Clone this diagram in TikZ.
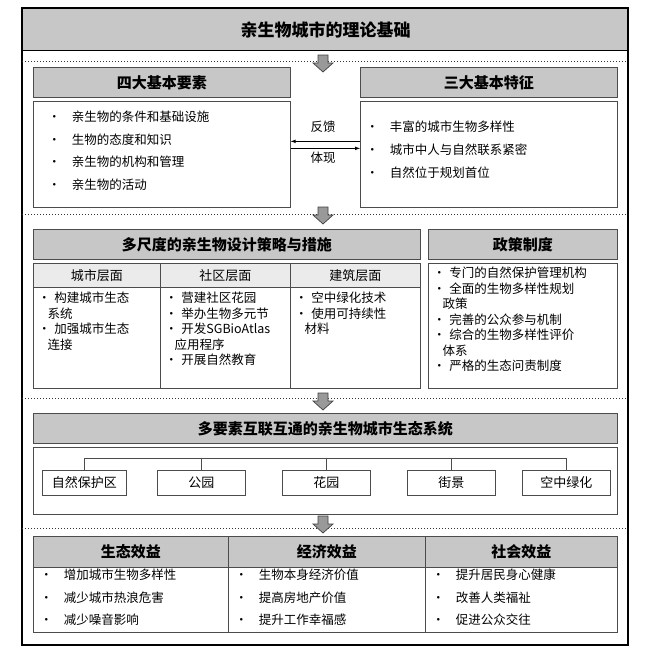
\documentclass[tikz,border=0pt]{standalone}
\usepackage{fontspec}
\setmainfont{Noto Sans CJK SC}
\usetikzlibrary{calc}
\tikzset{
  hdr/.style={draw=black!70,fill=black!22,line width=0.7pt,font=\fontsize{15}{18}\selectfont\bfseries},
  sub/.style={draw=black!70,fill=black!8,line width=0.6pt,font=\fontsize{13}{16}\selectfont},
  bodyb/.style={draw=black!70,fill=white,line width=0.7pt},
  txt/.style={font=\fontsize{12.5}{17}\selectfont,align=left,anchor=north west,inner sep=0pt},
  eco/.style={draw=black!70,fill=white,line width=0.7pt,minimum height=25pt,font=\fontsize{13}{16}\selectfont},
  dotl/.style={line width=1pt,dotted,black!80},
  bigarrow/.style={draw=black!75,fill=black!40,line width=0.7pt}
}
\newcommand\downarr[2]{\draw[bigarrow] (#1-5,#2) -- (#1+5,#2) -- (#1+5,#2+8) -- (#1+10,#2+8) -- (#1,#2+17) -- (#1-10,#2+8) -- (#1-5,#2+8) -- cycle;}
\begin{document}
\begin{tikzpicture}[x=1pt,y=-1pt]
\useasboundingbox (0,0) rectangle (646,656);
% outer frame and title
\node[hdr,minimum width=606pt,minimum height=42pt,anchor=north west,line width=1.2pt,draw=black,font=\fontsize{17}{20}\selectfont\bfseries] (title) at (22,8) {亲生物城市的理论基础};
\draw[line width=1.2pt] (22,8) rectangle (628,645);
% section 1
\draw[dotl] (22,61) -- (628,61);
\downarr{323}{55}
\node[hdr,minimum width=257pt,minimum height=30pt,anchor=north west] (h1) at (33,67) {四大基本要素};
\node[hdr,minimum width=257pt,minimum height=30pt,anchor=north west] (h2) at (360,67) {三大基本特征};
\node[bodyb,minimum width=257pt,minimum height=106pt,anchor=north west] (b1) at (33,101) {};
\node[bodyb,minimum width=257pt,minimum height=106pt,anchor=north west] (b2) at (360,101) {};
\node[txt,font=\fontsize{12.5}{22.5}\selectfont] (t1) at (48,111) {•\hspace{0.9em}亲生物的条件和基础设施\\•\hspace{0.9em}生物的态度和知识\\•\hspace{0.9em}亲生物的机构和管理\\•\hspace{0.9em}亲生物的活动};
\node[txt,font=\fontsize{12.5}{23}\selectfont] (t2) at (366,121) {•\hspace{0.9em}丰富的城市生物多样性\\•\hspace{0.9em}城市中人与自然联系紧密\\•\hspace{0.9em}自然位于规划首位};
\draw[-latex,line width=0.7pt] ($(b2.west)+(0,-13)$) -- ($(b1.east)+(0,-13)$);
\draw[-latex,line width=0.7pt] ($(b1.east)+(0,-6)$) -- ($(b2.west)+(0,-6)$);
\node[font=\fontsize{12.5}{15}\selectfont] (fk) at (323,127) {反馈};
\node[font=\fontsize{12.5}{15}\selectfont] (tx) at (323,158) {体现};
% section 2
\draw[dotl] (22,214) -- (628,214);
\downarr{323}{207}
\node[hdr,minimum width=387pt,minimum height=30pt,anchor=north west] (h3) at (33,229) {多尺度的亲生物设计策略与措施};
\node[hdr,minimum width=189pt,minimum height=30pt,anchor=north west] (h4) at (428,229) {政策制度};
\node[sub,minimum width=127pt,minimum height=24pt,anchor=north west] (s1) at (33,263) {城市层面};
\node[sub,minimum width=130pt,minimum height=24pt,anchor=north west] (s2) at (160,263) {社区层面};
\node[sub,minimum width=130pt,minimum height=24pt,anchor=north west] (s3) at (290,263) {建筑层面};
\node[bodyb,minimum width=127pt,minimum height=101pt,anchor=north west] (c1) at (33,287) {};
\node[bodyb,minimum width=130pt,minimum height=101pt,anchor=north west] (c2) at (160,287) {};
\node[bodyb,minimum width=130pt,minimum height=101pt,anchor=north west] (c3) at (290,287) {};
\node[bodyb,minimum width=189pt,minimum height=125pt,anchor=north west] (p) at (428,263) {};
\node[txt,font=\fontsize{12.5}{15.5}\selectfont] at (38,292) {•\hspace{0.3em}构建城市生态\\\hspace*{0.75em}系统\\•\hspace{0.3em}加强城市生态\\\hspace*{0.75em}连接};
\node[txt,font=\fontsize{12.5}{15.5}\selectfont] at (165,292) {•\hspace{0.3em}营建社区花园\\•\hspace{0.3em}举办生物多元节\\•\hspace{0.3em}开发SGBioAtlas\\\hspace*{0.75em}应用程序\\•\hspace{0.3em}开展自然教育};
\node[txt,font=\fontsize{12.5}{15.5}\selectfont] at (295,292) {•\hspace{0.3em}空中绿化技术\\•\hspace{0.3em}使用可持续性\\\hspace*{0.75em}材料};
\node[txt,font=\fontsize{12.5}{15.5}\selectfont] at (433,267) {•\hspace{0.3em}专门的自然保护管理机构\\•\hspace{0.3em}全面的生物多样性规划\\\hspace*{0.75em}政策\\•\hspace{0.3em}完善的公众参与机制\\•\hspace{0.3em}综合的生物多样性评价\\\hspace*{0.75em}体系\\•\hspace{0.3em}严格的生态问责制度};
% section 3
\draw[dotl] (22,398) -- (628,398);
\downarr{323}{393}
\node[hdr,minimum width=584pt,minimum height=30pt,anchor=north west] (h5) at (33,413) {多要素互联互通的亲生物城市生态系统};
\node[bodyb,minimum width=584pt,minimum height=67pt,anchor=north west] (ecob) at (33,447) {};
\node[eco,minimum width=84pt,anchor=north west] (e1) at (42,470) {自然保护区};
\node[eco,minimum width=88pt,anchor=north west] (e2) at (157,470) {公园};
\node[eco,minimum width=88pt,anchor=north west] (e3) at (282,470) {花园};
\node[eco,minimum width=88pt,anchor=north west] (e4) at (407,470) {街景};
\node[eco,minimum width=88pt,anchor=north west] (e5) at (522,470) {空中绿化};
\coordinate (bus1) at ($(e1.north)+(0,-12)$);
\draw[black!70,line width=0.7pt] (e1.north) -- (bus1) -- (bus1 -| e5.north) -- (e5.north);
\foreach \n in {e2,e3,e4} \draw[black!70,line width=0.7pt] (\n.north) -- (\n.north |- bus1);
% section 4
\draw[dotl] (22,528) -- (628,528);
\downarr{323}{516}
\node[hdr,minimum width=195pt,minimum height=31pt,anchor=north west] (g1) at (33,536) {生态效益};
\node[hdr,minimum width=197pt,minimum height=31pt,anchor=north west] (g2) at (228,536) {经济效益};
\node[hdr,minimum width=192pt,minimum height=31pt,anchor=north west] (g3) at (425,536) {社会效益};
\node[bodyb,minimum width=195pt,minimum height=65pt,anchor=north west] (k1) at (33,567) {};
\node[bodyb,minimum width=197pt,minimum height=65pt,anchor=north west] (k2) at (228,567) {};
\node[bodyb,minimum width=192pt,minimum height=65pt,anchor=north west] (k3) at (425,567) {};
\node[txt,font=\fontsize{12.5}{22.5}\selectfont] at (40,569) {•\hspace{0.9em}增加城市生物多样性\\•\hspace{0.9em}减少城市热浪危害\\•\hspace{0.9em}减少噪音影响};
\node[txt,font=\fontsize{12.5}{22.5}\selectfont] at (235,569) {•\hspace{0.9em}生物本身经济价值\\•\hspace{0.9em}提高房地产价值\\•\hspace{0.9em}提升工作幸福感};
\node[txt,font=\fontsize{12.5}{22.5}\selectfont] at (432,569) {•\hspace{0.9em}提升居民身心健康\\•\hspace{0.9em}改善人类福祉\\•\hspace{0.9em}促进公众交往};
\end{tikzpicture}
\end{document}
